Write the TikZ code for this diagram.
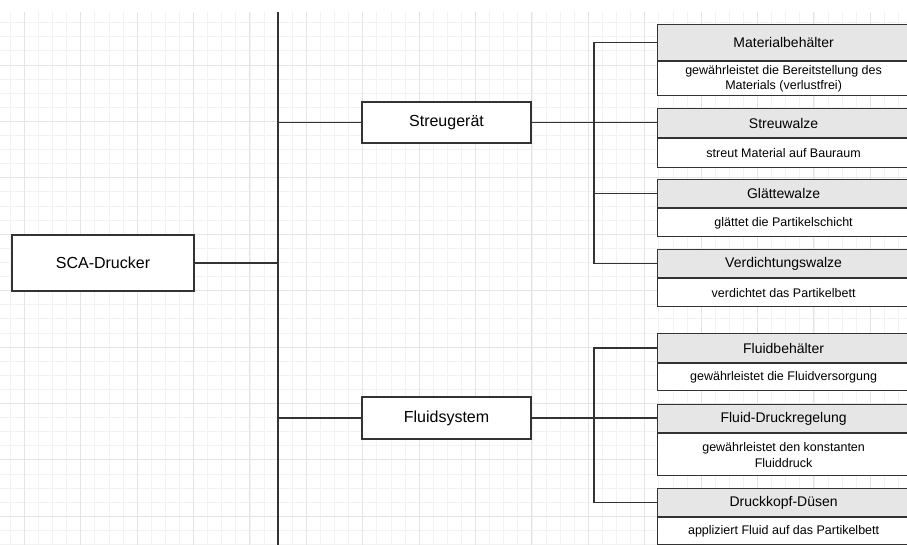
\documentclass[tikz,border=0pt]{standalone}
\usepackage{fontspec}
\setmainfont{Liberation Sans}

\definecolor{gridminor}{HTML}{F2F2F2}
\definecolor{gridmajor}{HTML}{E4E4E4}
\definecolor{headfill}{HTML}{E6E6E6}
\definecolor{linecol}{HTML}{333333}

\tikzset{
    mainbox/.style={draw=linecol, line width=1.2pt, fill=white, inner sep=0pt,
        font=\fontsize{16}{19}\selectfont},
    headbox/.style={draw=linecol, line width=1.2pt, fill=headfill, inner sep=0pt,
        anchor=north west, minimum width=252pt, font=\fontsize{14}{17}\selectfont},
    bodybox/.style={draw=linecol, line width=1.2pt, fill=white, inner sep=0pt,
        anchor=north west, minimum width=252pt, align=center,
        font=\fontsize{12.5}{15.5}\selectfont},
    link/.style={linecol, line width=1.4pt},
}

\begin{document}
\begin{tikzpicture}[
    x=1pt,
    y=-1pt,
]

% Page frame, 907 x 545 units
\useasboundingbox (0,0) rectangle (907,545);
\clip (0,0) rectangle (907,545);

% Background grid
\foreach \i in {0,...,64} {
    \draw[gridminor, line width=0.8pt] ({10.2+14.1*\i},12) -- ({10.2+14.1*\i},545);
}
\foreach \j in {0,...,37} {
    \draw[gridminor, line width=0.8pt] (0,{22.7+14.1*\j}) -- (907,{22.7+14.1*\j});
}
\foreach \i in {0,...,16} {
    \draw[gridmajor, line width=0.9pt] ({24.3+56.4*\i},12) -- ({24.3+56.4*\i},545);
}
\foreach \j in {0,...,8} {
    \draw[gridmajor, line width=0.9pt] (0,{65+56.4*\j}) -- (907,{65+56.4*\j});
}

% Trunk and bus positions
\coordinate (trunkTop) at (278,12);
\coordinate (trunkBot) at (278,545);
\coordinate (busA) at (594,0);
\coordinate (busB) at (594,0);

% Main trunk
\draw[linecol, line width=2pt] (trunkTop) -- (trunkBot);

% Root and subsystems
\node[mainbox, minimum width=182pt, minimum height=56pt] (root) at (103,263) {SCA-Drucker};
\node[mainbox, minimum width=169pt, minimum height=41pt] (streu) at (446.5,122.5) {Streugerät};
\node[mainbox, minimum width=169pt, minimum height=42pt] (fluid) at (446.5,418) {Fluidsystem};

% Components of Streugerät
\node[headbox, minimum height=36pt] (mat) at (657,24) {Materialbehälter};
\node[bodybox, minimum height=34pt] (matB) at (mat.south west)
    {gewährleistet die Bereitstellung des\\Materials (verlustfrei)};

\node[headbox, minimum height=29pt] (walze) at (657,108) {Streuwalze};
\node[bodybox, minimum height=29pt] (walzeB) at (walze.south west) {streut Material auf Bauraum};

\node[headbox, minimum height=28pt] (glatt) at (657,179) {Glättewalze};
\node[bodybox, minimum height=28pt] (glattB) at (glatt.south west) {glättet die Partikelschicht};

\node[headbox, minimum height=28pt] (verd) at (657,249) {Verdichtungswalze};
\node[bodybox, minimum height=28pt] (verdB) at (verd.south west) {verdichtet das Partikelbett};

% Components of Fluidsystem
\node[headbox, minimum height=29pt] (fbeh) at (657,333) {Fluidbehälter};
\node[bodybox, minimum height=27pt] (fbehB) at (fbeh.south west) {gewährleistet die Fluidversorgung};

\node[headbox, minimum height=28pt] (regel) at (657,404) {Fluid-Druckregelung};
\node[bodybox, minimum height=42pt] (regelB) at (regel.south west)
    {gewährleistet den konstanten\\Fluiddruck};

\node[headbox, minimum height=28pt] (duese) at (657,488) {Druckkopf-Düsen};
\node[bodybox, minimum height=27pt] (dueseB) at (duese.south west) {appliziert Fluid auf das Partikelbett};

% Links to trunk
\draw[link] (root.east) -- (root.east -| trunkTop);
\draw[link] (streu.west) -- (streu.west -| trunkTop);
\draw[link] (fluid.west) -- (fluid.west -| trunkTop);

% Links Streugerät
\draw[link] (streu.east) -- (streu.east -| walze.west);
\draw[link] (mat.west) -- (mat.west -| busA) |- (verd.west);
\draw[link] (glatt.west) -- (glatt.west -| busA);

% Links Fluidsystem
\draw[link] (fluid.east) -- (fluid.east -| regel.west);
\draw[link] (fbeh.west) -- (fbeh.west -| busB) |- (duese.west);

\end{tikzpicture}
\end{document}
